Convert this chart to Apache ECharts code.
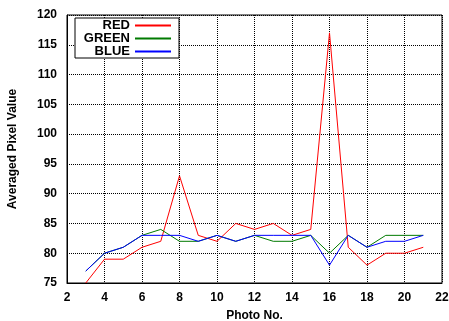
<!DOCTYPE html>
<html>
<head>
<meta charset="utf-8">
<script src="https://cdn.jsdelivr.net/npm/echarts@6/dist/echarts.min.js"></script>
<style>
  html, body { margin: 0; padding: 0; background: #fff; }
  #chart { width: 449px; height: 321px; }
</style>
</head>
<body>
<div id="chart"></div>
<script>
// Photo numbers and averaged channel values
const photoNo = [3, 4, 5, 6, 7, 8, 9, 10, 11, 12, 13, 14, 15, 16, 17, 18, 19, 20, 21];
const redValues   = [75, 79, 79, 81, 82, 93, 83, 82, 85, 84, 85, 83, 84, 117, 81, 78, 80, 80, 81];
const greenValues = [77, 80, 81, 83, 84, 82, 82, 83, 82, 83, 82, 82, 83, 80, 83, 81, 83, 83, 83];
const blueValues  = [77, 80, 81, 83, 83, 83, 82, 83, 82, 83, 83, 83, 83, 78, 83, 81, 82, 82, 83];
const seriesNames = ['RED', 'GREEN', 'BLUE'];
const xTicks = [2, 4, 6, 8, 10, 12, 14, 16, 18, 20, 22];
const yTicks = [75, 80, 85, 90, 95, 100, 105, 110, 115, 120];

const FONT = '"Liberation Sans", Arial, sans-serif';
const colors = ['#ff0000', '#007a00', '#0000ff'];

const pairs = vals => photoNo.map((x, i) => [x, vals[i]]);

const gridLine = { show: true, lineStyle: { color: '#000', type: [1, 1], width: 1 } };

const chart = echarts.init(document.getElementById('chart'));
chart.setOption({
  animation: false,
  backgroundColor: '#fff',
  grid: {
    left: 67, right: 7, top: 15, bottom: 38,
    outerBoundsMode: 'none',
    containLabel: false,
    show: true, borderColor: '#000', borderWidth: 1
  },
  legend: {
    orient: 'vertical',
    left: 75, top: 18,
    align: 'right',
    itemWidth: 36, itemHeight: 2,
    itemGap: 0,
    padding: [1, 8, 0, 7],
    borderColor: '#000', borderWidth: 1,
    backgroundColor: '#fff',
    icon: 'rect',
    data: seriesNames,
    textStyle: {
      fontFamily: FONT, fontWeight: 'bold', fontSize: 13, color: '#000',
      width: 48, align: 'right', lineHeight: 13
    }
  },
  xAxis: {
    type: 'value',
    min: xTicks[0], max: xTicks[xTicks.length - 1], interval: 2,
    name: 'Photo No.', nameLocation: 'middle', nameGap: 27,
    nameTextStyle: { fontFamily: FONT, fontWeight: 'bold', fontSize: 12, color: '#000' },
    axisLine: { show: true, lineStyle: { color: '#000' } },
    axisTick: { show: false },
    axisLabel: { fontFamily: FONT, fontWeight: 'bold', fontSize: 12, color: '#000', margin: 9 },
    splitLine: gridLine
  },
  yAxis: {
    type: 'value',
    min: yTicks[0], max: yTicks[yTicks.length - 1], interval: 5,
    name: 'Averaged Pixel Value', nameLocation: 'middle', nameGap: 48,
    nameTextStyle: { fontFamily: FONT, fontWeight: 'bold', fontSize: 12, color: '#000' },
    axisLine: { show: true, lineStyle: { color: '#000' } },
    axisTick: { show: false },
    axisLabel: { fontFamily: FONT, fontWeight: 'bold', fontSize: 12, color: '#000', margin: 10 },
    splitLine: gridLine
  },
  series: [redValues, greenValues, blueValues].map((vals, i) => ({
    name: seriesNames[i],
    type: 'line',
    data: pairs(vals),
    symbol: 'none',
    lineStyle: { color: colors[i], width: 1 },
    itemStyle: { color: colors[i] }
  }))
});
</script>
</body>
</html>
